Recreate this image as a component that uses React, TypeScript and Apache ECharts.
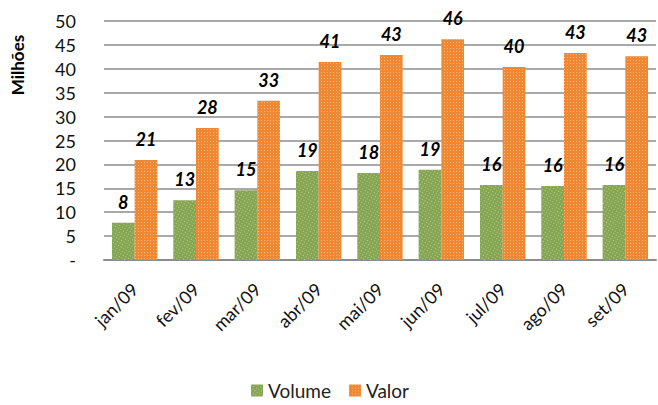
import React, { useEffect, useRef } from "react";
import * as echarts from "echarts";

const categories = ["jan/09", "fev/09", "mar/09", "abr/09", "mai/09", "jun/09", "jul/09", "ago/09", "set/09"];
const volume = [7.8, 12.5, 14.6, 18.6, 18.2, 18.9, 15.7, 15.5, 15.7];
const valor = [20.9, 27.6, 33.3, 41.4, 42.9, 46.2, 40.4, 43.3, 42.6];
const yTicks = [0, 5, 10, 15, 20, 25, 30, 35, 40, 45, 50];

const FONT = "Lato, 'Open Sans', sans-serif";

export default function App() {
  const ref = useRef<HTMLDivElement>(null);
  useEffect(() => {
    document.body.style.margin = "0";
    if (!ref.current) return;
    const chart = echarts.init(ref.current, null, { renderer: "svg" });
    const decal = (c: string) => ({
      symbol: "rect",
      symbolSize: 1,
      color: c,
      dashArrayX: [1, 2],
      dashArrayY: [1, 2],
    });
    const label = {
      show: true,
      position: "top" as const,
      distance: 12,
      fontFamily: FONT,
      fontSize: 18,
      fontWeight: "bold" as const,
      fontStyle: "italic" as const,
      color: "#000",
      formatter: (p: any) => String(Math.round(p.value)),
    };
    chart.setOption({
      animation: false,
      aria: { enabled: true, decal: { show: true } },
      grid: { left: 104, right: 2, top: 21, bottom: 145, containLabel: false },
      legend: {
        top: 381,
        left: 251,
        padding: 0,
        itemWidth: 12,
        itemHeight: 12,
        itemGap: 18,
        icon: "rect",
        textStyle: { fontFamily: FONT, fontSize: 19, color: "#222" },
        data: ["Volume", "Valor"],
      },
      graphic: [
        {
          type: "text",
          x: 17,
          y: 65,
          rotation: Math.PI / 2,
          style: {
            text: "Milhões",
            fontFamily: FONT,
            fontSize: 17,
            fontWeight: "bold",
            fill: "#000",
            align: "center",
            verticalAlign: "middle",
          },
        },
      ],
      xAxis: {
        type: "category",
        data: categories,
        axisLine: { lineStyle: { color: "#8c8c8c", width: 2 } },
        axisTick: { show: false },
        axisLabel: {
          rotate: 45,
          margin: 26,
          fontFamily: FONT,
          fontSize: 18,
          color: "#111",
          interval: 0,
        },
      },
      yAxis: {
        type: "value",
        min: 0,
        max: 50,
        interval: 5,
        axisLine: { show: false },
        axisTick: { show: false },
        splitLine: { lineStyle: { color: "#8c8c8c", width: 1.5 } },
        axisLabel: {
          margin: 28,
          fontFamily: FONT,
          fontSize: 18,
          color: "#111",
          formatter: (v: number) => (yTicks.includes(v) && v === 0 ? "-" : String(v)),
        },
      },
      series: [
        {
          name: "Volume",
          type: "bar",
          data: volume,
          barGap: "0%",
          barCategoryGap: "26%",
          itemStyle: { color: "#86a552", decal: decal("rgba(225,240,200,0.6)") },
          label,
        },
        {
          name: "Valor",
          type: "bar",
          data: valor,
          itemStyle: { color: "#ef8733", decal: decal("rgba(255,215,170,0.6)") },
          label,
        },
      ],
    });
    return () => chart.dispose();
  }, []);
  return <div ref={ref} style={{ width: 658, height: 405 }} />;
}
